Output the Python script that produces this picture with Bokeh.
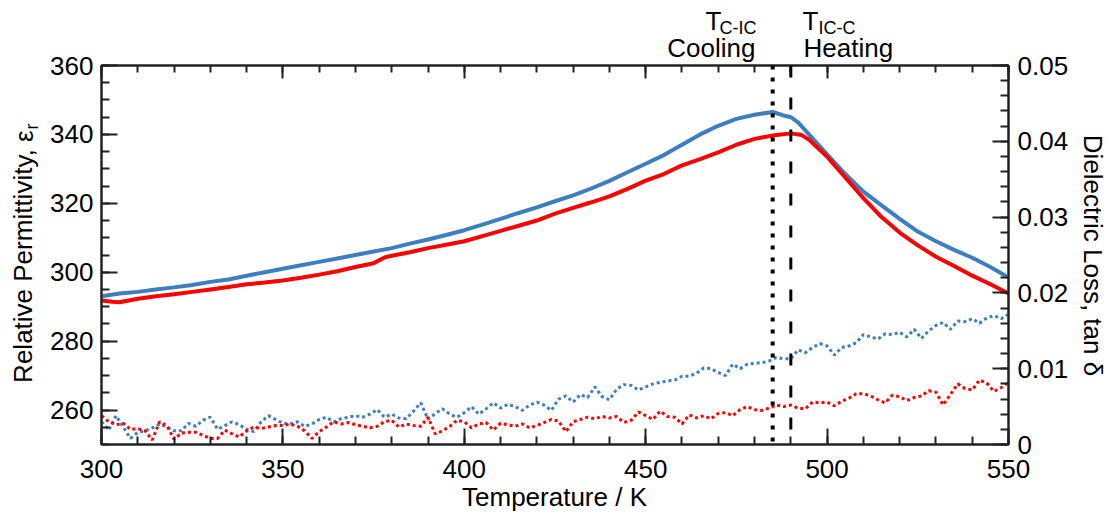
from bokeh.plotting import figure
from bokeh.models import Range1d, LinearAxis, FixedTicker, Span, Label, CustomJSTickFormatter, GridBox
from bokeh.embed import file_html
from bokeh.resources import INLINE

# ---------------- data ----------------
temp_cool = [300, 305, 310, 315, 320, 325, 330, 335, 340, 345, 350, 355, 360, 365, 370, 375,
             380, 385, 390, 395, 400, 405, 410, 415, 420, 425, 430, 435, 440, 445, 450, 455,
             460, 465, 470, 475, 480, 485, 488, 490, 492, 495, 500, 505, 510, 515, 520, 525,
             530, 535, 540, 545, 550]
eps_cool = [293.0, 293.8, 294.3, 295.0, 295.6, 296.3, 297.2, 297.9, 299.0, 300.0, 301.0, 302.0,
            303.0, 304.0, 305.0, 306.0, 307.0, 308.3, 309.5, 310.8, 312.2, 313.8, 315.5, 317.2,
            318.8, 320.6, 322.3, 324.3, 326.5, 329.0, 331.5, 334.0, 337.0, 340.0, 342.5, 344.5,
            345.7, 346.5, 345.5, 345.0, 343.5, 340.0, 334.2, 328.5, 323.4, 319.4, 315.5, 311.8,
            309.0, 306.5, 304.2, 301.5, 298.5]

temp_heat = [300, 303, 305, 310, 315, 320, 325, 330, 335, 340, 345, 350, 355, 360, 365, 370,
             375, 378, 380, 385, 390, 395, 400, 405, 410, 415, 420, 425, 430, 435, 440, 445,
             450, 455, 460, 465, 470, 475, 480, 485, 490, 493, 495, 500, 505, 510, 515, 520,
             525, 530, 535, 540, 545, 550]
eps_heat = [291.8, 291.4, 291.3, 292.3, 293.0, 293.6, 294.3, 295.0, 295.7, 296.5, 297.0, 297.6,
            298.4, 299.3, 300.3, 301.5, 302.6, 304.3, 304.8, 305.8, 307.0, 308.0, 309.0, 310.5,
            312.0, 313.5, 315.0, 317.0, 318.7, 320.3, 322.0, 324.2, 326.6, 328.5, 331.0, 332.8,
            334.8, 337.0, 338.7, 339.7, 340.3, 339.8, 338.5, 333.5, 327.5, 321.5, 316.0, 311.5,
            307.8, 304.5, 301.8, 299.0, 296.5, 293.8]

temp_loss = list(range(300, 552, 2))
loss_cool = [0.0030, 0.0019, 0.0038, 0.0023, 0.0008, 0.0016, 0.0018, 0.0022, 0.0027, 0.0023,
             0.0018, 0.0018, 0.0028, 0.0024, 0.0032, 0.0036, 0.0020, 0.0025, 0.0030, 0.0026,
             0.0020, 0.0017, 0.0030, 0.0038, 0.0033, 0.0028, 0.0027, 0.0030, 0.0024, 0.0027,
             0.0033, 0.0036, 0.0030, 0.0034, 0.0036, 0.0038, 0.0036, 0.0040, 0.0046, 0.0036,
             0.0040, 0.0035, 0.0034, 0.0044, 0.0055, 0.0033, 0.0041, 0.0047, 0.0040, 0.0036,
             0.0042, 0.0050, 0.0040, 0.0047, 0.0055, 0.0048, 0.0053, 0.0050, 0.0045, 0.0052,
             0.0056, 0.0052, 0.0045, 0.0060, 0.0064, 0.0056, 0.0066, 0.0062, 0.0076, 0.0063,
             0.0059, 0.0073, 0.0079, 0.0078, 0.0072, 0.0076, 0.0080, 0.0082, 0.0084, 0.0085,
             0.0090, 0.0090, 0.0094, 0.0101, 0.0100, 0.0095, 0.0091, 0.0106, 0.0100, 0.0106,
             0.0107, 0.0108, 0.0110, 0.0115, 0.0113, 0.0113, 0.0125, 0.0121, 0.0128, 0.0133,
             0.0130, 0.0118, 0.0128, 0.0130, 0.0134, 0.0145, 0.0142, 0.0139, 0.0146, 0.0145,
             0.0148, 0.0142, 0.0152, 0.0140, 0.0150, 0.0157, 0.0161, 0.0152, 0.0163, 0.0162,
             0.0166, 0.0160, 0.0167, 0.0170, 0.0166, 0.0172]
loss_heat = [0.0038, 0.0030, 0.0026, 0.0028, 0.0020, 0.0021, 0.0018, 0.0006, 0.0030, 0.0025,
             0.0007, 0.0015, 0.0016, 0.0016, 0.0012, 0.0008, 0.0008, 0.0019, 0.0014, 0.0010,
             0.0018, 0.0023, 0.0021, 0.0023, 0.0025, 0.0025, 0.0027, 0.0024, 0.0018, 0.0008,
             0.0017, 0.0023, 0.0030, 0.0027, 0.0029, 0.0026, 0.0024, 0.0022, 0.0024, 0.0030,
             0.0032, 0.0023, 0.0027, 0.0025, 0.0024, 0.0036, 0.0014, 0.0018, 0.0024, 0.0032,
             0.0030, 0.0022, 0.0027, 0.0029, 0.0019, 0.0028, 0.0026, 0.0024, 0.0027, 0.0022,
             0.0025, 0.0029, 0.0033, 0.0031, 0.0017, 0.0030, 0.0033, 0.0036, 0.0034, 0.0037,
             0.0035, 0.0037, 0.0029, 0.0032, 0.0043, 0.0038, 0.0033, 0.0044, 0.0037, 0.0036,
             0.0027, 0.0039, 0.0035, 0.0038, 0.0034, 0.0041, 0.0042, 0.0038, 0.0046, 0.0050,
             0.0046, 0.0045, 0.0048, 0.0052, 0.0050, 0.0052, 0.0048, 0.0047, 0.0056, 0.0055,
             0.0056, 0.0051, 0.0057, 0.0061, 0.0067, 0.0067, 0.0064, 0.0059, 0.0055, 0.0065,
             0.0063, 0.0058, 0.0062, 0.0064, 0.0071, 0.0069, 0.0052, 0.0066, 0.0080, 0.0074,
             0.0072, 0.0085, 0.0081, 0.0070, 0.0075, 0.0082]

T_C_IC = 485   # cooling transition
T_IC_C = 490   # heating transition

x_ticks = [300, 350, 400, 450, 500, 550]
x_minor = list(range(300, 551, 10))
eps_ticks = [260, 280, 300, 320, 340, 360]
eps_minor = list(range(250, 361, 5))
loss_ticks = [0, 0.01, 0.02, 0.03, 0.04, 0.05]
loss_minor = [round(i * 0.002, 3) for i in range(26)]
loss_tick_labels = {0: "0", 0.01: "0.01", 0.02: "0.02", 0.03: "0.03", 0.04: "0.04", 0.05: "0.05"}

BLUE = "#3d7ebf"
RED = "#fe0000"
FONT = "Liberation Sans"
AX = "#222222"

# ---------------- layout ----------------
W, H = 1113, 518
L, R, T, B = 101, 1008, 65, 444

p = figure(width=W, height=H, output_backend="svg", toolbar_location=None,
           x_range=Range1d(300, 550), y_range=Range1d(250, 360),
           min_border_left=L, min_border_right=W - R, min_border_top=T, min_border_bottom=H - B)
p.frame_align = False
p.extra_y_ranges = {"loss": Range1d(0, 0.05)}
p.xgrid.visible = False
p.ygrid.visible = False
p.outline_line_color = AX
p.outline_line_width = 2
p.background_fill_color = "white"
p.border_fill_color = "white"


def style(ax, ticks, minor):
    ax.ticker = FixedTicker(ticks=ticks, minor_ticks=minor)
    ax.axis_line_color = AX
    ax.axis_line_width = 2
    ax.major_tick_line_color = AX
    ax.major_tick_line_width = 2
    ax.minor_tick_line_color = AX
    ax.minor_tick_line_width = 2
    ax.major_tick_in = 16
    ax.major_tick_out = 0
    ax.minor_tick_in = 8
    ax.minor_tick_out = 0
    ax.major_label_text_font = FONT
    ax.major_label_text_font_size = "26px"
    ax.major_label_text_color = "black"


style(p.xaxis[0], x_ticks, x_minor)
p.xaxis[0].major_label_standoff = 15
style(p.yaxis[0], eps_ticks, eps_minor)
p.yaxis[0].major_label_standoff = 8

right = LinearAxis(y_range_name="loss")
style(right, loss_ticks, loss_minor)
right.major_label_overrides = loss_tick_labels
right.major_label_standoff = 9
p.add_layout(right, "right")

top = LinearAxis(formatter=CustomJSTickFormatter(code="return ''"))
style(top, x_ticks, x_minor)
top.major_tick_in = 13
top.minor_tick_in = 7
p.add_layout(top, "above")

# ---------------- series ----------------
p.line(temp_loss, loss_cool, y_range_name="loss", line_color=BLUE, line_width=3, line_dash="3 3")
p.line(temp_loss, loss_heat, y_range_name="loss", line_color=RED, line_width=3, line_dash="3 3")
p.line(temp_cool, eps_cool, line_color=BLUE, line_width=4)
p.line(temp_heat, eps_heat, line_color=RED, line_width=4)

p.add_layout(Span(location=T_C_IC, dimension="height", line_color="black", line_width=4, line_dash="4 8"))
p.add_layout(Span(location=T_IC_C, dimension="height", line_color="black", line_width=3, line_dash="12 20"))

# ---------------- text overlay (same size, transparent, pixel coordinates) ----------------
ov = figure(width=W, height=H, output_backend="svg", toolbar_location=None, title_location=None,
            x_range=Range1d(0, W), y_range=Range1d(H, 0), min_border=0,
            x_axis_type=None, y_axis_type=None)
ov.frame_align = False
ov.xgrid.visible = False
ov.ygrid.visible = False
ov.outline_line_color = None
ov.background_fill_color = None
ov.border_fill_color = None


def lab(text, px, py, size=26, align="left", baseline="alphabetic", angle=0):
    ov.add_layout(Label(x=px, y=py, text=text, text_font=FONT, text_font_size=f"{size}px",
                        text_align=align, text_baseline=baseline, angle=angle, text_color="black"))


lab("T", 721, 20, align="right")
lab("C-IC", 756, 27, size=18, align="right")
lab("Cooling", 755, 47, align="right")
lab("T", 802, 20)
lab("IC-C", 818, 27, size=18)
lab("Heating", 803, 47)

lab("Temperature / K", 554, 496, align="center")
lab("Relative Permittivity, ε", 23, 130, align="right", angle=1.5707963)
lab("r", 31, 129, size=18, align="left", angle=1.5707963)
lab("Dielectric Loss, tan δ", 1092, 255, align="center", baseline="middle", angle=-1.5707963)

grid = GridBox(children=[(p, 0, 0), (ov, 0, 0)], width=W, height=H)

open("out.html", "w").write(file_html(grid, INLINE))
